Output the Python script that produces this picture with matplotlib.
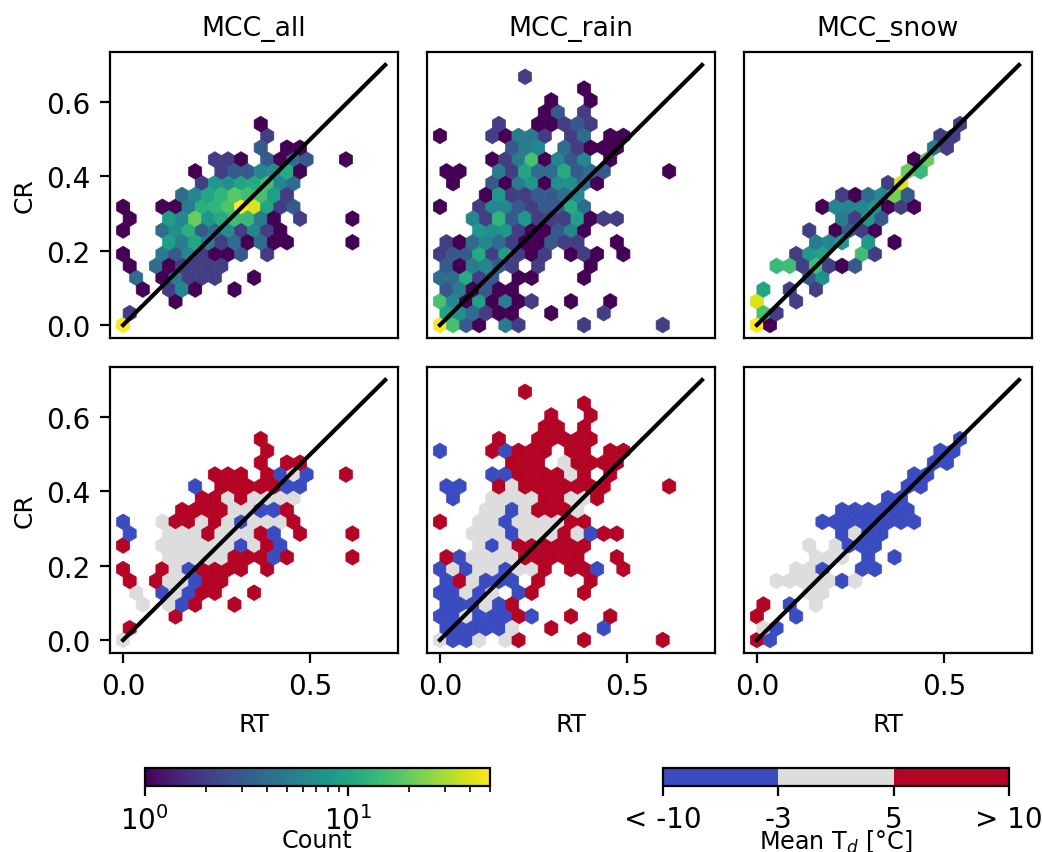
import matplotlib
matplotlib.use("Agg")
import matplotlib.pyplot as plt
import numpy as np
from matplotlib.colors import BoundaryNorm, ListedColormap, LogNorm

TITLES = ["MCC_all", "MCC_rain", "MCC_snow"]

# one entry per occupied hexagon, written row by row going up in CR
all_rt = [
    0.0,
    0.018,
    0.14,
    0.053, 0.123, 0.158, 0.193, 0.298,
    0.035, 0.105, 0.14, 0.175, 0.21, 0.245, 0.35,
    0.018, 0.088, 0.123, 0.158, 0.193, 0.228, 0.263,
    0.0, 0.105, 0.14, 0.175, 0.21, 0.245, 0.28, 0.315, 0.385,
    0.123, 0.158, 0.193, 0.228, 0.263, 0.298, 0.333, 0.368, 0.403, 0.438, 0.613,
    0.0, 0.105, 0.14, 0.175, 0.21, 0.245, 0.28, 0.315, 0.35, 0.385, 0.42,
    0.018, 0.123, 0.158, 0.193, 0.228, 0.263, 0.298, 0.333, 0.368, 0.403, 0.473, 0.613,
    0.0, 0.105, 0.14, 0.175, 0.21, 0.245, 0.28, 0.315, 0.35, 0.385, 0.42, 0.455,
    0.158, 0.193, 0.228, 0.263, 0.298, 0.333, 0.368, 0.403, 0.438,
    0.21, 0.245, 0.28, 0.315, 0.35, 0.385, 0.42, 0.455,
    0.193, 0.263, 0.298, 0.333, 0.368, 0.403, 0.438, 0.473,
    0.245, 0.28, 0.315, 0.385, 0.42, 0.455, 0.49, 0.595,
    0.368, 0.438, 0.473,
    0.385,
    0.368,
]
all_cr = [
    0.0,
    0.032,
    0.064,
    *[0.095] * 5,
    *[0.127] * 7,
    *[0.159] * 7,
    *[0.191] * 9,
    *[0.223] * 11,
    *[0.255] * 11,
    *[0.286] * 12,
    *[0.318] * 12,
    *[0.35] * 9,
    *[0.382] * 8,
    *[0.414] * 8,
    *[0.445] * 8,
    *[0.477] * 3,
    0.509,
    0.541,
]
all_count = [
    50,
    2,
    1,
    1, 2, 6, 1, 1,
    4, 1, 5, 2, 2, 2, 1,
    1, 4, 1, 2, 2, 2, 2,
    1, 5, 3, 6, 2, 1, 1, 3, 2,
    9, 5, 10, 5, 2, 4, 1, 4, 1, 1, 1,
    1, 4, 7, 12, 3, 4, 7, 2, 6, 2, 1,
    1, 9, 6, 20, 8, 11, 15, 14, 5, 1, 2, 1,
    1, 1, 1, 5, 12, 13, 17, 50, 40, 10, 2, 3,
    4, 6, 10, 13, 18, 15, 16, 9, 2,
    2, 8, 7, 10, 11, 15, 6, 4,
    1, 2, 3, 3, 6, 7, 11, 1,
    2, 2, 1, 3, 1, 4, 3, 1,
    3, 1, 1,
    2,
    1,
]
all_td = [
    1,
    8,
    8,
    1, 1, -8, 8, 8,
    1, -8, 1, -8, 8, 8, 8,
    8, 8, 1, 1, -8, 8, 8,
    8, 8, 1, -8, 8, 8, 8, 8, 8,
    1, 1, 1, 1, 1, 8, 8, 8, -8, 8, 8,
    8, 1, 1, 1, 1, 1, 1, -8, 1, 8, -8,
    -8, 1, 1, 1, 8, 1, 1, 1, 8, -8, 8, 8,
    -8, 1, 8, 8, 1, 8, 1, -8, 1, 1, 1, 8,
    8, 8, 8, 8, 1, 1, -8, -8, 8,
    8, 8, 1, 8, 1, 1, 1, 1,
    -8, 8, 8, 8, 8, 8, -8, -8,
    8, 8, 8, 8, -8, 1, -8, 8,
    8, 8, 8,
    8,
    8,
]

rain_rt = [
    0.0, 0.035, 0.07, 0.105, 0.175, 0.21, 0.385, 0.595,
    0.018, 0.053, 0.088, 0.123, 0.158, 0.193, 0.298, 0.438,
    0.0, 0.035, 0.07, 0.105, 0.14, 0.175, 0.21, 0.245, 0.35, 0.455,
    0.018, 0.053, 0.088, 0.123, 0.158, 0.193,
    0.0, 0.035, 0.07, 0.105, 0.14, 0.21, 0.245, 0.385,
    0.018, 0.053, 0.088, 0.123, 0.158, 0.193, 0.263, 0.403,
    0.0, 0.035, 0.07, 0.105, 0.14, 0.175, 0.21, 0.245, 0.28, 0.35, 0.385, 0.42, 0.49,
    0.018, 0.053, 0.088, 0.123, 0.158, 0.193, 0.228, 0.263, 0.298, 0.333, 0.368, 0.473,
    0.105, 0.14, 0.175, 0.21, 0.245, 0.28, 0.315, 0.35, 0.385,
    0.088, 0.123, 0.158, 0.193, 0.228, 0.263, 0.298, 0.333, 0.368, 0.403, 0.438, 0.473,
    0.0, 0.105, 0.14, 0.175, 0.21, 0.245, 0.28, 0.315, 0.35, 0.385,
    0.123, 0.158, 0.193, 0.228, 0.263, 0.298, 0.333, 0.368,
    0.035, 0.14, 0.175, 0.21, 0.245, 0.28, 0.315, 0.35, 0.385, 0.42,
    0.018, 0.053, 0.158, 0.193, 0.228, 0.263, 0.298, 0.333, 0.368, 0.403, 0.438, 0.613,
    0.14, 0.175, 0.21, 0.245, 0.28, 0.315, 0.35, 0.385, 0.455,
    0.193, 0.228, 0.263, 0.333, 0.368, 0.403, 0.438, 0.473,
    0.0, 0.14, 0.175, 0.21, 0.245, 0.28, 0.35, 0.385, 0.455, 0.49,
    0.158, 0.263, 0.298, 0.333, 0.368, 0.403,
    0.28, 0.315, 0.385,
    0.298, 0.403,
    0.385,
    0.228,
]
rain_cr = [
    *[0.0] * 8,
    *[0.032] * 8,
    *[0.064] * 10,
    *[0.095] * 6,
    *[0.127] * 8,
    *[0.159] * 8,
    *[0.191] * 13,
    *[0.223] * 12,
    *[0.255] * 9,
    *[0.286] * 12,
    *[0.318] * 10,
    *[0.35] * 8,
    *[0.382] * 10,
    *[0.414] * 12,
    *[0.445] * 9,
    *[0.477] * 8,
    *[0.509] * 10,
    *[0.541] * 6,
    *[0.573] * 3,
    *[0.605] * 2,
    0.636,
    0.668,
]
rain_count = [
    50, 16, 3, 1, 5, 2, 2, 2,
    10, 7, 4, 2, 1, 1, 1, 2,
    16, 6, 1, 9, 1, 5, 1, 2, 1, 1,
    3, 5, 1, 3, 1, 1,
    4, 4, 11, 2, 3, 1, 1, 1,
    3, 1, 5, 6, 3, 2, 2, 1,
    2, 3, 3, 11, 2, 9, 2, 1, 2, 1, 2, 1, 1,
    2, 1, 4, 6, 4, 2, 1, 1, 3, 2, 2, 1,
    8, 7, 8, 2, 1, 1, 3, 6, 1,
    6, 2, 13, 3, 8, 2, 2, 2, 9, 1, 2, 2,
    1, 2, 6, 6, 3, 2, 3, 3, 11, 4,
    1, 8, 2, 2, 3, 3, 4, 6,
    1, 3, 1, 5, 8, 1, 7, 7, 4, 1,
    1, 1, 5, 2, 10, 4, 4, 11, 3, 4, 3, 1,
    1, 2, 5, 16, 1, 6, 3, 6, 1,
    3, 5, 6, 4, 2, 1, 1, 1,
    1, 2, 1, 5, 5, 2, 2, 4, 1, 1,
    2, 1, 1, 2, 3, 2,
    1, 3, 2,
    1, 1,
    1,
    2,
]
rain_td = [
    1, -8, -8, 1, 1, 8, 8, 8,
    -8, -8, -8, -8, -8, 1, 8, -8,
    -8, -8, 1, -8, -8, -8, 8, -8, 8, 8,
    -8, -8, -8, 1, -8, 8,
    -8, -8, 1, -8, 1, -8, 8, 8,
    -8, 8, 1, -8, -8, -8, 8, 8,
    -8, 1, -8, 1, 1, -8, 1, 1, 8, 8, 8, -8, 8,
    8, -8, 1, 1, 1, 1, 8, 8, 8, 8, 8, 8,
    1, -8, 1, 8, 8, 8, 8, 8, 8,
    1, 1, 1, -8, 1, 1, 1, 8, 1, -8, 8, 8,
    8, 1, 1, -8, 1, 1, 1, 1, 8, 8,
    1, 1, -8, 1, 8, 8, 8, 1,
    -8, 1, 1, 1, 1, 8, 8, 1, 1, 8,
    -8, -8, 8, 1, 8, 8, 8, 8, 8, 8, 8, 8,
    -8, -8, 8, 8, 8, 8, 1, 8, 8,
    8, 8, 8, 1, 8, 8, 8, 8,
    -8, 8, -8, 8, 8, 8, 8, 8, 8, 8,
    8, 8, 8, 8, 8, 8,
    8, 8, 8,
    8, 8,
    8,
    8,
]

snow_rt = [
    0.0, 0.035,
    0.018, 0.053,
    0.0, 0.105,
    0.018, 0.088, 0.158,
    0.14, 0.175,
    0.053, 0.088, 0.123, 0.158, 0.193, 0.228, 0.263,
    0.105, 0.14, 0.175, 0.28, 0.315,
    0.158, 0.193, 0.228, 0.298, 0.368,
    0.14, 0.21, 0.245, 0.28, 0.315,
    0.228, 0.263, 0.298, 0.333,
    0.175, 0.21, 0.245, 0.28, 0.315, 0.35, 0.385, 0.42,
    0.228, 0.263, 0.298, 0.333, 0.368, 0.403,
    0.35, 0.385,
    0.403, 0.438,
    0.42, 0.455,
    0.473, 0.508,
    0.49, 0.525,
    0.543,
]
snow_cr = [
    *[0.0] * 2,
    *[0.032] * 2,
    *[0.064] * 2,
    *[0.095] * 3,
    *[0.127] * 2,
    *[0.159] * 7,
    *[0.191] * 5,
    *[0.223] * 5,
    *[0.255] * 5,
    *[0.286] * 4,
    *[0.318] * 8,
    *[0.35] * 6,
    *[0.382] * 2,
    *[0.414] * 2,
    *[0.445] * 2,
    *[0.477] * 2,
    *[0.509] * 2,
    0.541,
]
snow_count = [
    50, 1,
    16, 2,
    40, 2,
    10, 2, 2,
    3, 7,
    14, 15, 2, 15, 2, 1, 3,
    2, 8, 10, 15, 2,
    5, 6, 8, 8, 1,
    2, 1, 3, 2, 1,
    5, 2, 8, 3,
    1, 6, 6, 6, 8, 1, 2, 1,
    2, 1, 4, 6, 22, 3,
    2, 40,
    20, 14,
    1, 20,
    5, 2,
    2, 2,
    2,
]
snow_td = [
    8, -8,
    1, -8,
    8, -8,
    8, -8, 1,
    1, 1,
    1, 1, 1, 1, 1, -8, 1,
    1, 1, -8, -8, -8,
    1, 1, 1, -8, -8,
    1, 1, -8, -8, -8,
    -8, 1, -8, -8,
    -8, -8, -8, -8, -8, -8, -8, -8,
    -8, -8, -8, -8, -8, -8,
    -8, -8,
    -8, -8,
    -8, -8,
    -8, -8,
    -8, -8,
    -8,
]

ONE_TO_ONE = [0.0, 0.7]
TD_BOUNDS = [-10, -3, 5, 10]
TD_LABELS = ["< -10", "-3", "5", "> 10"]

W, H = 1043, 853


def place(x0, y0, x1, y1):
    return [x0 / W, 1 - y1 / H, (x1 - x0) / W, (y1 - y0) / H]


def main():
    plt.rcParams["font.size"] = 10
    fig = plt.figure(figsize=(W / 200, H / 200), dpi=200)

    lefts = [110.0, 426.8, 743.8]
    panels = [
        (all_rt, all_cr, all_count, all_td),
        (rain_rt, rain_cr, rain_count, rain_td),
        (snow_rt, snow_cr, snow_count, snow_td),
    ]
    count_norm = LogNorm(vmin=1, vmax=50)
    td_cmap = ListedColormap(["#3b4cc0", "#dddddd", "#b40426"])
    td_norm = BoundaryNorm(TD_BOUNDS, 3)
    hex_args = dict(gridsize=20, extent=(0, 0.7, 0, 0.7), edgecolors="face", linewidths=0.25)

    for i, (rt, cr, count, td) in enumerate(panels):
        ax_top = fig.add_axes(place(lefts[i], 53, lefts[i] + 288.3, 339))
        ax_bot = fig.add_axes(place(lefts[i], 368, lefts[i] + 288.3, 654))
        count_hex = ax_top.hexbin(
            rt, cr, C=count, reduce_C_function=np.sum, cmap="viridis",
            norm=count_norm, **hex_args,
        )
        td_hex = ax_bot.hexbin(
            rt, cr, C=td, reduce_C_function=np.mean, cmap=td_cmap,
            norm=td_norm, **hex_args,
        )
        for ax in (ax_top, ax_bot):
            ax.plot(ONE_TO_ONE, ONE_TO_ONE, color="k", lw=1.5)
            ax.set_xlim(-0.035, 0.735)
            ax.set_ylim(-0.035, 0.735)
            ax.set_xticks([0.0, 0.5])
            ax.set_yticks([0.0, 0.2, 0.4, 0.6])
            if i == 0:
                ax.set_ylabel("CR", fontsize=9, labelpad=3.5)
            else:
                ax.set_yticks([])
        ax_top.set_xticks([])
        ax_top.set_title(TITLES[i], fontsize=9.6)
        ax_bot.set_xlabel("RT", fontsize=9)

    cax1 = fig.add_axes(place(144.5, 769, 490.2, 786.5))
    cb1 = fig.colorbar(count_hex, cax=cax1, orientation="horizontal")
    cb1.set_label("Count", fontsize=8.6, labelpad=-2.3)

    cax2 = fig.add_axes(place(663.2, 769, 1008.8, 786.5))
    cb2 = fig.colorbar(td_hex, cax=cax2, orientation="horizontal")
    cb2.set_ticks(TD_BOUNDS, labels=TD_LABELS)
    cb2.minorticks_off()
    cb2.set_label("Mean T$_d$ [°C]", fontsize=8.6, labelpad=-2)

    fig.savefig("out.png", dpi=200)
    plt.close(fig)


if __name__ == "__main__":
    main()
